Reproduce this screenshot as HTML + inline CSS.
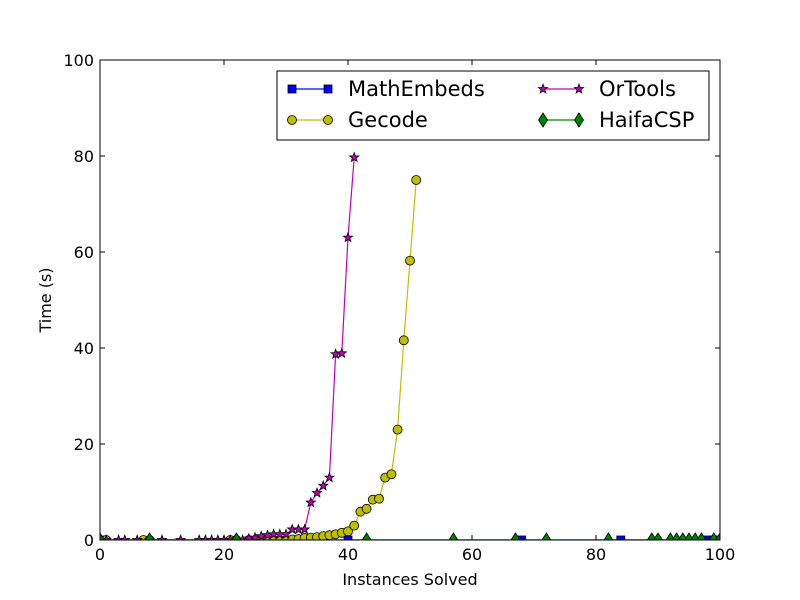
<!DOCTYPE html>
<html><head><meta charset="utf-8"><style>
body{margin:0;background:#fff;}
svg{display:block;font-family:"DejaVu Sans","Liberation Sans",sans-serif;}
</style></head><body>
<svg id="chart" width="800" height="600" viewBox="0 0 800 600">
<defs><clipPath id="plotclip"><rect x="100" y="60" width="620" height="480"/></clipPath></defs>
<rect x="0" y="0" width="800" height="600" fill="#fff"/>
<g id="axes"></g>
<g id="series" clip-path="url(#plotclip)"></g>
<rect x="100" y="60" width="620" height="480" fill="none" stroke="#000" stroke-width="1"/>
<text x="410" y="585" font-size="16" text-anchor="middle">Instances Solved</text>
<text x="51" y="300" font-size="16" text-anchor="middle" transform="rotate(-90 51 300)">Time (s)</text>
<g id="legend">
<rect x="277" y="71" width="432" height="69" fill="#fff" stroke="#000" stroke-width="1"/>
</g>
</svg>
<script>
const xTicks=[0,20,40,60,80,100];
const yTicks=[0,20,40,60,80,100];
const mathX=[0,40,68,84,98,99];
const mathY=[0,0,0,0,0,0];
const gecodeX=[0,1,7,8,21,22,24,25,26,27,28,29,30,31,32,33,34,35,36,37,38,39,40,41,42,43,44,45,46,47,48,49,50,51];
const gecodeY=[0,0,0,0,0,0,0,0,0,0,0,0,0,0.1,0.2,0.4,0.5,0.6,0.8,1,1.2,1.5,1.8,3,5.9,6.5,8.4,8.6,13,13.7,23,41.6,58.2,75];
const orX=[0,1,3,4,6,8,10,13,16,17,18,19,20,21,23,24,25,26,27,28,29,30,31,32,33,34,35,36,37,38,39,40,41];
const orY=[0,0,0,0,0,0,0,0,0,0,0,0,0,0,0,0.3,0.5,0.8,1,1.2,1.2,1.2,2.2,2.2,2.2,7.8,9.8,11.3,13,38.7,38.9,63,79.7];
const haifaX=[0,8,22,43,57,67,72,82,89,90,92,93,94,95,96,97,99,100];
const haifaY=[0,0,0,0,0,0,0,0,0,0,0,0,0,0,0,0,0,0];
const NS='http://www.w3.org/2000/svg';
const sx=v=>100+v*6.2, sy=v=>540-v*4.8;
function mk(tag,attrs,parent){const e=document.createElementNS(NS,tag);for(const k in attrs)e.setAttribute(k,attrs[k]);parent.appendChild(e);return e;}
const axes=document.getElementById('axes');
xTicks.forEach(t=>{
 const x=sx(t);
 const l=mk('line',{x1:x,x2:x,y1:540,y2:535,stroke:'#000'},axes);
 
 
 const l2=mk('line',{x1:x,x2:x,y1:60,y2:65,stroke:'#000'},axes);
 
 
 const tx=mk('text',{x:x,y:560,'font-size':16,'text-anchor':'middle'},axes);tx.textContent=t;
 
 
});
yTicks.forEach(t=>{
 const y=sy(t);
 const l=mk('line',{x1:100,x2:105,y1:y,y2:y,stroke:'#000'},axes);
 
 
 const l2=mk('line',{x1:715,x2:720,y1:y,y2:y,stroke:'#000'},axes);
 
 
 const tx=mk('text',{x:94,y:y+6,'font-size':16,'text-anchor':'end'},axes);tx.textContent=t;
 
 
});
function marker(type,x,y,fill,parent,s){
 s=s||1;let e;
 if(type==='square') e=mk('rect',{x:x-4*s,y:y-4*s,width:8*s,height:8*s},parent);
 else if(type==='circle') e=mk('circle',{cx:x,cy:y,r:4.5*s},parent);
 else if(type==='diamond') e=mk('polygon',{points:`${x},${y-7*s} ${x+4.5*s},${y} ${x},${y+7*s} ${x-4.5*s},${y}`},parent);
 else {let p=[];for(let i=0;i<10;i++){const r=(i%2?2:4.8)*s,a=-Math.PI/2+i*Math.PI/5;p.push((x+r*Math.cos(a)).toFixed(2)+','+(y+r*Math.sin(a)).toFixed(2));}e=mk('polygon',{points:p.join(' ')},parent);}
 e.setAttribute('fill',fill);e.setAttribute('stroke','#000');e.setAttribute('stroke-width','0.8');
 return e;
}
const ser=document.getElementById('series');
const defs=[
 {name:'mathembeds',xs:mathX,ys:mathY,color:'#0000ff',m:'square'},
 {name:'gecode',xs:gecodeX,ys:gecodeY,color:'#bfbf00',m:'circle'},
 {name:'ortools',xs:orX,ys:orY,color:'#bf00bf',m:'star'},
 {name:'haifacsp',xs:haifaX,ys:haifaY,color:'#008000',m:'diamond'}
];
defs.forEach(d=>{
 const g=mk('g',{},ser);
 
 
 const pl=mk('polyline',{points:d.xs.map((x,i)=>sx(x)+','+sy(d.ys[i])).join(' '),fill:'none',stroke:d.color,'stroke-width':1.2},g);
 
 
 d.xs.forEach((x,i)=>{
  const e=marker(d.m,sx(x),sy(d.ys[i]),d.color,g);
  
  
 });
});
const leg=document.getElementById('legend');
const items=[
 {label:'MathEmbeds',color:'#0000ff',m:'square',x:292,y:89},
 {label:'Gecode',color:'#bfbf00',m:'circle',x:292,y:120},
 {label:'OrTools',color:'#bf00bf',m:'star',x:543,y:89},
 {label:'HaifaCSP',color:'#008000',m:'diamond',x:543,y:120}
];
items.forEach(it=>{
 const g=mk('g',{},leg);
 
 
 mk('line',{x1:it.x,x2:it.x+36,y1:it.y,y2:it.y,stroke:it.color,'stroke-width':1.2},g);
 marker(it.m,it.x,it.y,it.color,g);
 marker(it.m,it.x+36,it.y,it.color,g);
 const t=mk('text',{x:it.x+56,y:it.y+7,'font-size':21},g);t.textContent=it.label;
});
</script>
</body></html>
